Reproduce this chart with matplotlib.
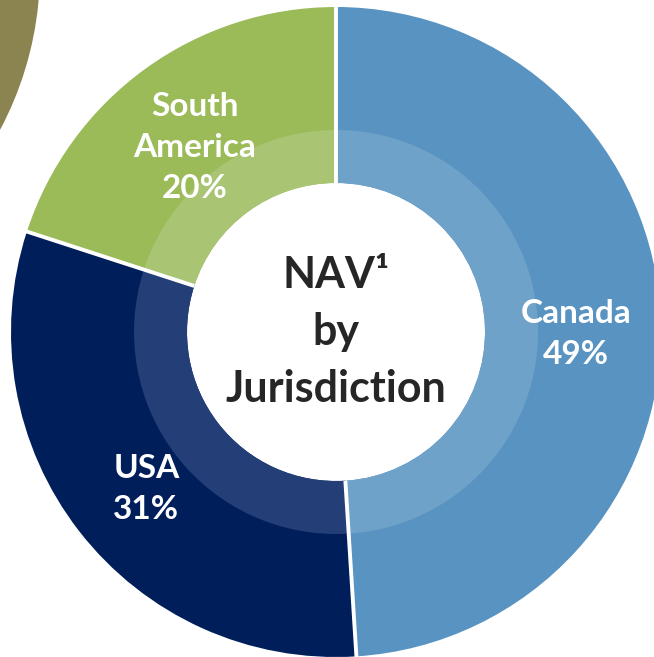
import matplotlib.pyplot as plt
import numpy as np

# NAV by jurisdiction (percent)
regions = ['Canada', 'USA', 'South\nAmerica']
shares = [49, 31, 20]
outer_colors = ['#5993C1', '#001E5A', '#9BBB59']
inner_colors = ['#6FA2C9', '#243F77', '#A9C574']

plt.rcParams['font.family'] = ['Lato', 'DejaVu Sans']

W, H = 654, 657
fig = plt.figure(figsize=(W / 100, H / 100), dpi=100)
ax = fig.add_axes([0, 0, 1, 1])

# geometry in pixels (y measured from the bottom)
cx, cy = 336, H - 332
r_out, r_mid, r_hole = 325, 202, 149

# olive arc of the neighbouring chart, top-left corner
ax.add_patch(plt.Circle((-300, H + 30), 340, color='#8B8450', lw=0))

# full ring in the dark shade, lighter inner band on top
ax.pie(shares, colors=outer_colors, radius=r_out, center=(cx, cy),
       startangle=90, counterclock=False,
       wedgeprops=dict(width=r_out - r_hole, linewidth=0))
ax.pie(shares, colors=inner_colors, radius=r_mid, center=(cx, cy),
       startangle=90, counterclock=False,
       wedgeprops=dict(width=r_mid - r_hole, linewidth=0))

# white gaps between slices
frac = np.array(shares) / sum(shares)
bounds = np.concatenate([[0], np.cumsum(frac)]) * 2 * np.pi
for a in bounds[:-1]:
    ax.plot([cx + r_hole * np.sin(a), cx + (r_out + 5) * np.sin(a)],
            [cy + r_hole * np.cos(a), cy + (r_out + 5) * np.cos(a)],
            color='white', lw=2.8, solid_capstyle='butt')

# labels at the middle angle of each slice, nudged a little down
mids = (np.cumsum(frac) - frac / 2) * 2 * np.pi
for name, pct, a in zip(regions, shares, mids):
    x = cx + 240 * np.sin(a)
    y = cy + 240 * np.cos(a) - 10
    ax.text(x, y, '{}\n{}%'.format(name, pct), ha='center', va='center',
            color='white', fontsize=24, fontweight='bold', linespacing=1.5)

ax.text(cx, cy, 'NAV¹\nby\nJurisdiction', ha='center', va='center',
        color='#262626', fontsize=31, fontweight='bold', linespacing=1.5)

ax.set_xlim(0, W)
ax.set_ylim(0, H)
ax.set_aspect('equal')
ax.axis('off')

fig.savefig('out.png', dpi=100)
